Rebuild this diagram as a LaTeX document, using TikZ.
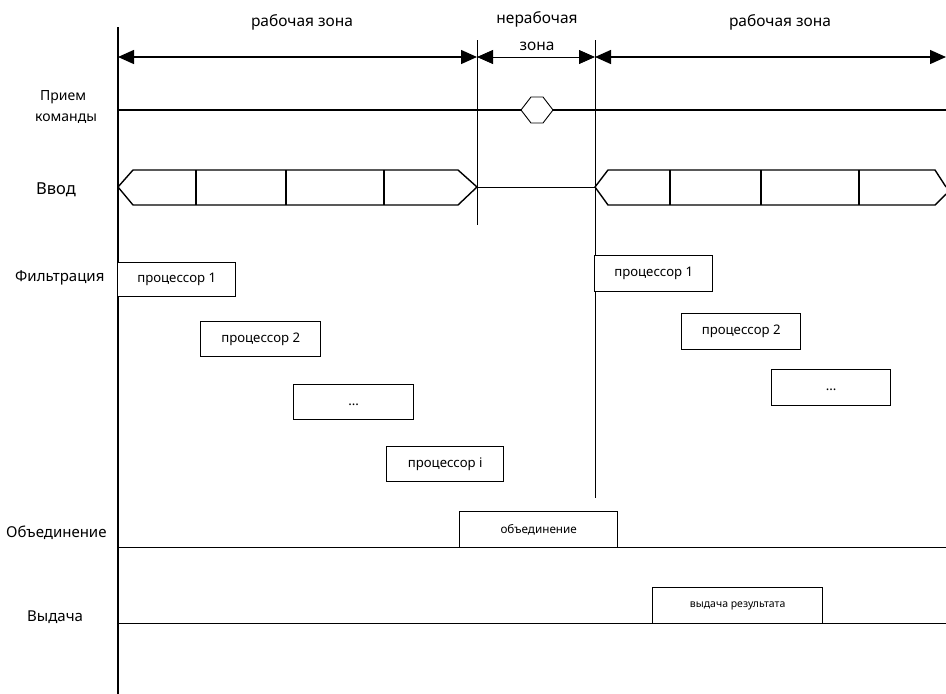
\documentclass[tikz,border=0pt]{standalone}
\usepackage{fontspec}
\setmainfont{Noto Sans}
\usetikzlibrary{arrows.meta}
\tikzset{
  thick line/.style={line width=1.4pt, black},
  thin line/.style={line width=0.9pt, black},
  dimarrow/.style={line width=1.4pt, {Triangle[length=16pt,width=14pt]}-{Triangle[length=16pt,width=14pt]}},
  dimthin/.style={line width=0.8pt, {Triangle[length=16pt,width=14pt]}-{Triangle[length=16pt,width=14pt]}},
  box/.style={draw, line width=1.4pt, fill=white, anchor=north west, inner sep=0pt, font=\fontsize{13.2}{15}\selectfont},
  rowlabel/.style={font=\fontsize{15}{17}\selectfont, anchor=west, inner sep=0pt},
  zonelabel/.style={font=\fontsize{15.5}{18}\selectfont, inner sep=0pt},
}
\begin{document}
\begin{tikzpicture}[x=1pt,y=-1pt]
\useasboundingbox (0,0) rectangle (946,694);
% coordinates
\coordinate (axT) at (118,27);
\coordinate (axB) at (118,694);
\coordinate (v1T) at (477,40);
\coordinate (v1B) at (477,225);
\coordinate (v2T) at (595,40);
\coordinate (v2B) at (595,498);
\coordinate (zA) at (118,57);
\coordinate (zB) at (477,57);
\coordinate (zC) at (595,57);
\coordinate (zD) at (946,57);
% axis and dividers
\draw[thick line] (axT) -- (axB);
\draw[thin line] (v1T) -- (v1B);
\draw[thin line] (v2T) -- (v2B);
% zone arrows
\draw[dimarrow] (zA) -- (zB);
\draw[dimthin] (zB) -- (zC);
\draw[dimarrow] (zC) -- (zD);
\node[zonelabel] (z1) at (302,22) {рабочая зона};
\node[zonelabel] (z2) at (537,19) {нерабочая};
\node[zonelabel] (z3) at (537,46) {зона};
\node[zonelabel] (z4) at (780,22) {рабочая зона};
% row labels
\node[rowlabel, font=\fontsize{14}{16}\selectfont] (lPr1) at (40,97) {Прием};
\node[rowlabel, font=\fontsize{14}{16}\selectfont] (lPr2) at (35,119) {команды};
\node[rowlabel, font=\fontsize{16.5}{18}\selectfont] (lVv) at (36,190) {Ввод};
\node[rowlabel] (lFi) at (15,278) {Фильтрация};
\node[rowlabel] (lOb) at (6,533) {Объединение};
\node[rowlabel] (lVy) at (27,617) {Выдача};
% command reception line with hexagon
\coordinate (hx1) at (521,110);
\coordinate (hx4) at (553,110);
\draw[thick line] (118,110) -- (hx1);
\draw[thick line] (hx4) -- (946,110);
\draw[thin line] (hx1) -- (531,97) -- (543,97) -- (hx4) -- (543,123) -- (531,123) -- cycle;
% input bars
\draw[thick line] (118,187) -- (133,170) -- (458,170) -- (477,187) -- (458,205) -- (133,205) -- cycle;
\foreach \x in {196,286,384} \draw[thick line] (\x,170) -- (\x,205);
\draw[thin line] (477,187) -- (595,187);
\draw[thick line] (946,187) -- (935,170) -- (608,170) -- (595,187) -- (608,205) -- (935,205) -- (946,194);
\foreach \x in {670,761,859} \draw[thick line] (\x,170) -- (\x,205);
% filtration boxes
\node[box, minimum width=118pt, minimum height=34pt] (p1) at (117,262) {процессор 1};
\node[box, minimum width=120pt, minimum height=35pt] (p2) at (200,321) {процессор 2};
\node[box, minimum width=120pt, minimum height=35pt] (p3) at (293,384) {\raisebox{-6pt}{...}};
\node[box, minimum width=117pt, minimum height=35pt] (p4) at (386,446) {процессор i};
\node[box, minimum width=118pt, minimum height=36pt] (q1) at (594,255) {процессор 1};
\node[box, minimum width=119pt, minimum height=36pt] (q2) at (681,313) {процессор 2};
\node[box, minimum width=119pt, minimum height=36pt] (q3) at (771,369) {\raisebox{-6pt}{...}};
% merge and output
\draw[thin line] (118,547) -- (946,547);
\draw[thin line] (118,623) -- (946,623);
\node[box, minimum width=158pt, minimum height=36pt, font=\fontsize{11.7}{13}\selectfont] (m) at (459,511) {объединение};
\node[box, minimum width=170pt, minimum height=36pt, font=\fontsize{10.5}{12}\selectfont] (o) at (652,587) {выдача результата};
\end{tikzpicture}
\end{document}
